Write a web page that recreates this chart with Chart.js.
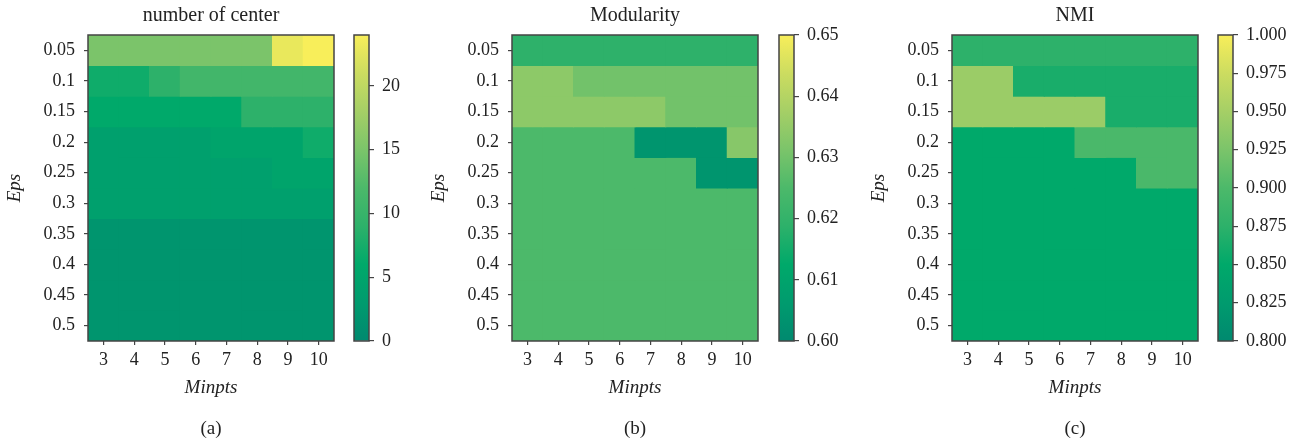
<!DOCTYPE html>
<html>
<head>
<meta charset="utf-8">
<script src="https://cdn.jsdelivr.net/npm/chart.js@4.4.1/dist/chart.umd.min.js"></script>
<style>
  body { margin: 0; background: #fff; width: 1307px; height: 445px; position: relative; overflow: hidden; }
  .box { position: absolute; top: 0; height: 445px; }
</style>
</head>
<body>
<div class="box" style="left:0;width:344px"><canvas id="heat-a"></canvas></div>
<div class="box" style="left:350px;width:70px"><canvas id="bar-a"></canvas></div>
<div class="box" style="left:424px;width:344px"><canvas id="heat-b"></canvas></div>
<div class="box" style="left:775px;width:80px"><canvas id="bar-b"></canvas></div>
<div class="box" style="left:864px;width:344px"><canvas id="heat-c"></canvas></div>
<div class="box" style="left:1214px;width:93px"><canvas id="bar-c"></canvas></div>
<script>
const minpts = ['3', '4', '5', '6', '7', '8', '9', '10'];
const eps = ['0.05', '0.1', '0.15', '0.2', '0.25', '0.3', '0.35', '0.4', '0.45', '0.5'];

// rows follow eps, columns follow minpts
const centerCount = [
  [15, 15, 15, 15, 15, 15, 23, 24],
  [7, 7, 9, 11, 11, 11, 11, 11],
  [6, 6, 6, 6, 6, 9, 9, 9],
  [4, 4, 4, 4, 5, 5, 5, 7],
  [4, 4, 4, 4, 4, 4, 5, 5],
  [4, 4, 4, 4, 4, 4, 4, 4],
  [2, 2, 2, 2, 2, 2, 2, 2],
  [2, 2, 2, 2, 2, 2, 2, 2],
  [2, 2, 2, 2, 2, 2, 2, 2],
  [2, 2, 2, 2, 2, 2, 2, 2],
];
const modularity = [
  [0.619, 0.619, 0.619, 0.619, 0.619, 0.619, 0.619, 0.619],
  [0.634, 0.634, 0.630, 0.630, 0.630, 0.630, 0.630, 0.630],
  [0.634, 0.634, 0.634, 0.634, 0.634, 0.630, 0.630, 0.630],
  [0.625, 0.625, 0.625, 0.625, 0.604, 0.604, 0.604, 0.633],
  [0.625, 0.625, 0.625, 0.625, 0.625, 0.625, 0.604, 0.604],
  [0.625, 0.625, 0.625, 0.625, 0.625, 0.625, 0.625, 0.625],
  [0.625, 0.625, 0.625, 0.625, 0.625, 0.625, 0.625, 0.625],
  [0.625, 0.625, 0.625, 0.625, 0.625, 0.625, 0.625, 0.625],
  [0.625, 0.625, 0.625, 0.625, 0.625, 0.625, 0.625, 0.625],
  [0.625, 0.625, 0.625, 0.625, 0.625, 0.625, 0.625, 0.625],
];
const nmi = [
  [0.875, 0.875, 0.875, 0.875, 0.875, 0.875, 0.875, 0.875],
  [0.944, 0.944, 0.864, 0.864, 0.864, 0.864, 0.864, 0.864],
  [0.944, 0.944, 0.944, 0.944, 0.944, 0.864, 0.864, 0.864],
  [0.850, 0.850, 0.850, 0.850, 0.898, 0.898, 0.898, 0.898],
  [0.850, 0.850, 0.850, 0.850, 0.850, 0.850, 0.898, 0.898],
  [0.850, 0.850, 0.850, 0.850, 0.850, 0.850, 0.850, 0.850],
  [0.850, 0.850, 0.850, 0.850, 0.850, 0.850, 0.850, 0.850],
  [0.850, 0.850, 0.850, 0.850, 0.850, 0.850, 0.850, 0.850],
  [0.850, 0.850, 0.850, 0.850, 0.850, 0.850, 0.850, 0.850],
  [0.850, 0.850, 0.850, 0.850, 0.850, 0.850, 0.850, 0.850],
];

const ticksA = [0, 5, 10, 15, 20];
const ticksB = [0.60, 0.61, 0.62, 0.63, 0.64, 0.65];
const ticksC = [0.800, 0.825, 0.850, 0.875, 0.900, 0.925, 0.950, 0.975, 1.000];

// teal -> green -> yellow, sampled off the colour bars
const cmap = [
  [0, [0, 137, 111]],
  [0.125, [0, 155, 110]],
  [0.25, [0, 169, 106]],
  [0.375, [45, 177, 106]],
  [0.5, [76, 185, 106]],
  [0.625, [123, 196, 106]],
  [0.75, [165, 207, 102]],
  [0.875, [204, 220, 96]],
  [1, [248, 238, 90]],
];

function colorAt(t) {
  t = Math.min(1, Math.max(0, t));
  for (let i = 1; i < cmap.length; i++) {
    const [t1, c1] = cmap[i];
    if (t <= t1) {
      const [t0, c0] = cmap[i - 1];
      const f = (t - t0) / (t1 - t0);
      const c = c0.map((v, k) => Math.round(v + (c1[k] - v) * f));
      return `rgb(${c.join(',')})`;
    }
  }
  return `rgb(${cmap[cmap.length - 1][1].join(',')})`;
}

Chart.defaults.font.family = "'Liberation Serif', 'Times New Roman', serif";
Chart.defaults.color = '#222';

const frame = {
  id: 'frame',
  afterDraw(chart) {
    const { ctx, chartArea: a } = chart;
    ctx.save();
    ctx.strokeStyle = '#444';
    ctx.lineWidth = 1.5;
    ctx.strokeRect(a.left, a.top, a.right - a.left, a.bottom - a.top);
    ctx.restore();
  },
};

const axisGrid = { drawOnChartArea: false, tickLength: 4, color: '#444', lineWidth: 1.2 };

function heatmap(canvasId, title, tag, values, vmin, vmax) {
  new Chart(document.getElementById(canvasId), {
    type: 'bar',
    data: {
      labels: minpts,
      datasets: values.map((row, r) => ({
        data: row.map(() => [r, r + 1]),
        backgroundColor: row.map(v => colorAt((v - vmin) / (vmax - vmin))),
        borderWidth: 0,
        inflateAmount: 0.5,
        barPercentage: 1,
        categoryPercentage: 1,
      })),
    },
    options: {
      responsive: true,
      maintainAspectRatio: false,
      animation: false,
      layout: { padding: { left: 0, right: 10, top: 0, bottom: 0 } },
      plugins: {
        legend: { display: false },
        tooltip: { enabled: false },
        title: {
          display: true, fullSize: false, text: title,
          font: { size: 20, weight: 'normal' }, padding: { top: 4, bottom: 7 },
        },
        subtitle: {
          display: true, fullSize: false, position: 'bottom', text: tag,
          font: { size: 19 }, padding: { top: 10, bottom: 4.6 },
        },
      },
      scales: {
        x: {
          stacked: true,
          grid: { ...axisGrid, offset: false },
          border: { display: false },
          ticks: { padding: 4, font: { size: 18 } },
          title: { display: true, text: 'Minpts', font: { size: 19, style: 'italic' }, padding: { top: 0, bottom: 7.8 } },
          afterFit: s => { s.height = 66.6; },
        },
        y: {
          min: 0,
          max: eps.length,
          reverse: true,
          afterBuildTicks: s => { s.ticks = eps.map((_, i) => ({ value: i + 0.5 })); },
          grid: axisGrid,
          border: { display: false },
          ticks: { padding: 9, font: { size: 18 }, callback: (v, i) => eps[i] },
          title: { display: true, text: 'Eps', font: { size: 19, style: 'italic' }, padding: { top: 4 } },
          afterFit: s => { s.width = 88; },
        },
      },
    },
    plugins: [frame],
  });
}

function colorbar(canvasId, boxWidth, vmin, vmax, ticks, digits) {
  new Chart(document.getElementById(canvasId), {
    type: 'bar',
    data: {
      labels: [''],
      datasets: [{
        data: [[vmin, vmax]],
        borderWidth: 0,
        barPercentage: 1,
        categoryPercentage: 1,
        backgroundColor: ctx => {
          const a = ctx.chart.chartArea;
          if (!a) return colorAt(0);
          const g = ctx.chart.ctx.createLinearGradient(0, a.bottom, 0, a.top);
          cmap.forEach(([t, c]) => g.addColorStop(t, `rgb(${c.join(',')})`));
          return g;
        },
      }],
    },
    options: {
      responsive: true,
      maintainAspectRatio: false,
      animation: false,
      layout: { padding: { left: 4, right: 0, top: 35, bottom: 104 } },
      plugins: { legend: { display: false }, tooltip: { enabled: false } },
      scales: {
        x: { display: false },
        y: {
          position: 'right',
          min: vmin,
          max: vmax,
          afterBuildTicks: s => { s.ticks = ticks.map(v => ({ value: v })); },
          grid: { ...axisGrid, tickLength: 5 },
          border: { display: false },
          ticks: { padding: 8, font: { size: 18 }, callback: v => v.toFixed(digits) },
          afterFit: s => { s.width = boxWidth - 4 - 15; },
        },
      },
    },
    plugins: [frame],
  });
}

heatmap('heat-a', 'number of center', '(a)', centerCount, 0, 24);
colorbar('bar-a', 70, 0, 24, ticksA, 0);
heatmap('heat-b', 'Modularity', '(b)', modularity, 0.60, 0.65);
colorbar('bar-b', 80, 0.60, 0.65, ticksB, 2);
heatmap('heat-c', 'NMI', '(c)', nmi, 0.80, 1.00);
colorbar('bar-c', 93, 0.80, 1.00, ticksC, 3);
</script>
</body>
</html>
